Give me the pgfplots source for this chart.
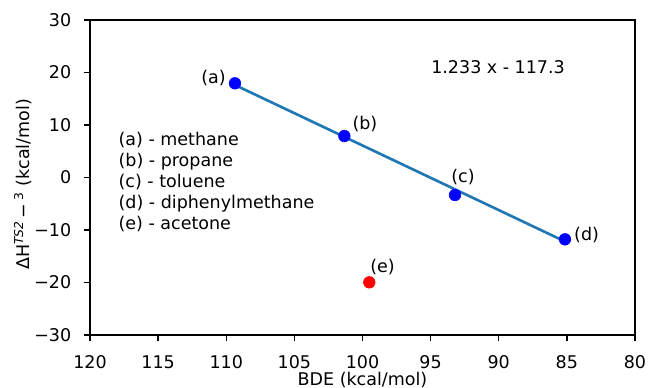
\documentclass[border=0pt]{standalone}
\usepackage{pgfplots}
\pgfplotsset{compat=1.18}
\usepackage{fontspec}
\setmainfont{DejaVu Sans}
\definecolor{mplblue}{HTML}{1F77B4}
\begin{document}
\begin{tikzpicture}
\fontsize{12.6}{15.1}\selectfont
\begin{axis}[
  scale only axis, width=392.4pt, height=226.8pt,
  at={(0,0)}, anchor=south west,
  xmin=80, xmax=120, ymin=-30, ymax=30, x dir=reverse,
  xtick={80,85,...,120}, ytick={-30,-20,...,30},
  yticklabels={−30,−20,−10,0,10,20,30},
  xtick pos=bottom, ytick pos=left,
  tick align=outside, major tick length=4.4pt,
  tick style={line width=1pt, black},
  axis line style={line width=1pt},
  /pgf/number format/assume math mode=true,
  xticklabel style={font=\fontsize{12.6}{15.1}\selectfont, anchor=north, inner sep=0pt, yshift=-10.3pt},
  yticklabel style={font=\fontsize{12.6}{15.1}\selectfont, anchor=east, inner sep=0pt, xshift=-8.9pt},
  clip=false,
]
\addplot[only marks, mark=*, mark size=4.2pt, mark options={draw=blue, fill=blue}] coordinates {
  (109.36,17.94) (101.33,7.9) (93.21,-3.33) (85.14,-11.78)
};
\addplot[only marks, mark=*, mark size=4.2pt, mark options={draw=red, fill=red}] coordinates {
  (99.5,-19.97)
};
\addplot[mplblue, line width=1.9pt] coordinates {(109.36,17.62) (85.26,-12.04)};

\node[anchor=east, inner sep=0pt] at (axis cs:110.02,19.0) {(a)};
\node[anchor=west, inner sep=0pt] at (axis cs:100.75,10.13) {(b)};
\node[anchor=west, inner sep=0pt] at (axis cs:93.5,0.15) {(c)};
\node[anchor=west, inner sep=0pt] at (axis cs:84.48,-10.95) {(d)};
\node[anchor=west, inner sep=0pt] at (axis cs:99.45,-16.99) {(e)};
\node[anchor=west, inner sep=0pt] at (axis cs:94.97,21.1) {1.233 x - 117.3};

\node[anchor=base west, inner sep=0pt] at (axis cs:117.92,6.10) {(a) - methane};
\node[anchor=base west, inner sep=0pt] at (axis cs:117.92,2.10) {(b) - propane};
\node[anchor=base west, inner sep=0pt] at (axis cs:117.92,-1.90) {(c) - toluene};
\node[anchor=base west, inner sep=0pt] at (axis cs:117.92,-5.90) {(d) - diphenylmethane};
\node[anchor=base west, inner sep=0pt] at (axis cs:117.92,-9.90) {(e) - acetone};

\node[anchor=north, inner sep=0pt, yshift=-26.3pt] at (rel axis cs:0.5,0) {BDE (kcal/mol)};
\node[xshift=-42pt, rotate=90, anchor=south, inner sep=0pt] at (rel axis cs:0,0.478) {ΔH\textsuperscript{\itshape TS2}\,−\,\textsuperscript{3} (kcal/mol)};
\end{axis}
\useasboundingbox (-64.8pt,-37.44pt) rectangle (401.76pt,241.2pt);
\end{tikzpicture}
\end{document}
